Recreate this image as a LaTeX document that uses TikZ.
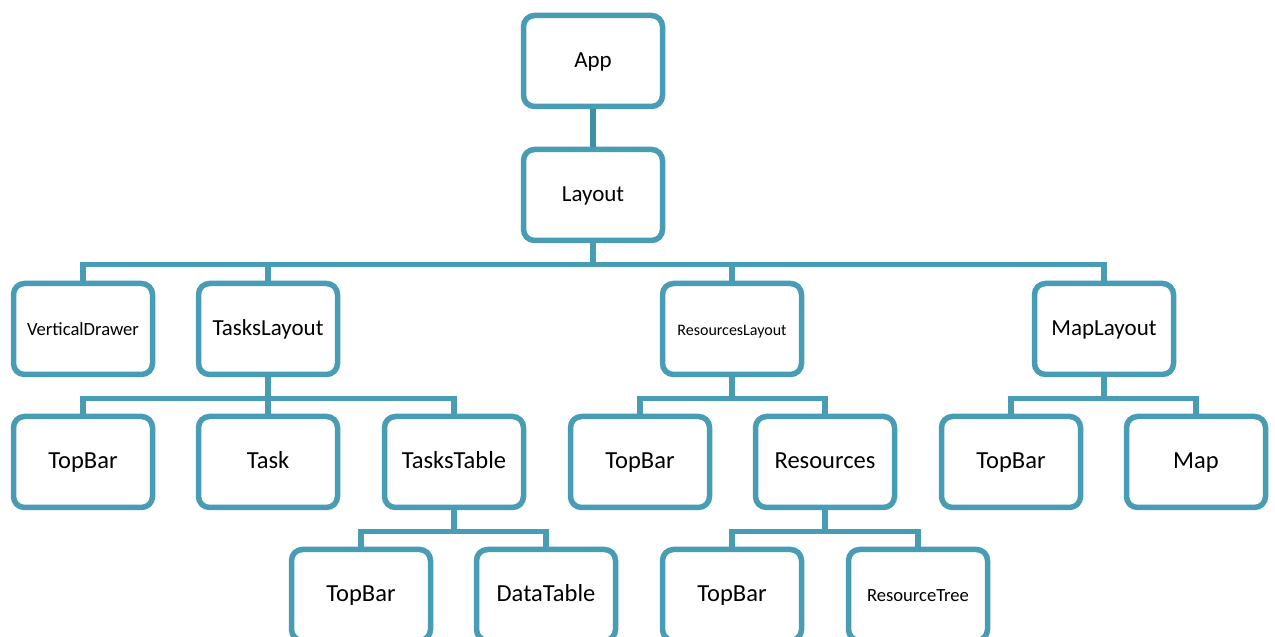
\documentclass[tikz,border=0pt]{standalone}
\usepackage{fontspec}
\setmainfont{Carlito}
\definecolor{boxline}{RGB}{72,156,180}
\definecolor{stemline}{RGB}{62,142,165}
\tikzset{
  x=1pt, y=1pt,
  comp/.style={draw=boxline, line width=5.5pt, rounded corners=11pt, fill=white,
    minimum width=139pt, minimum height=91pt, inner sep=0pt,
    text height=17pt, text depth=4pt, font=\fontsize{23}{27}\selectfont},
  lowtxt/.style={font=\fontsize{24.5}{29}\selectfont},
  smalltxt/.style={font=\fontsize{18.6}{22}\selectfont},
  tinytxt/.style={font=\fontsize{16}{19}\selectfont},
  link/.style={draw=boxline, line width=5.5pt},
}
\begin{document}
\begin{tikzpicture}
\useasboundingbox (0,0) rectangle (1275,637);
\clip (0,0) rectangle (1275,637);

% level 0-1
\node[comp] (app) at (593,576) {App};
\node[comp] (layout) at (593,442) {Layout};

% level 2
\node[comp, smalltxt] (vdrawer) at (83,308) {VerticalDrawer};
\node[comp] (tasks) at (268,308) {TasksLayout};
\node[comp, tinytxt] (reslay) at (732,308) {ResourcesLayout};
\node[comp] (maplay) at (1104,308) {MapLayout};

% level 3
\node[comp, lowtxt] (tbA) at (83,175) {TopBar};
\node[comp, lowtxt] (task) at (268,175) {Task};
\node[comp, lowtxt] (ttable) at (454,175) {TasksTable};
\node[comp, lowtxt] (tbB) at (640,175) {TopBar};
\node[comp, lowtxt] (res) at (825,175) {Resources};
\node[comp, lowtxt] (tbC) at (1011,175) {TopBar};
\node[comp, lowtxt] (map) at (1196,175) {Map};

% level 4
\node[comp, lowtxt] (tbD) at (361,42) {TopBar};
\node[comp, lowtxt] (dtable) at (546,42) {DataTable};
\node[comp, lowtxt] (tbE) at (732,42) {TopBar};
\node[comp, smalltxt] (rtree) at (918,42) {ResourceTree};

% tree connectors
\draw[link, draw=stemline] (app.south) -- (layout.north);
\foreach \c in {vdrawer,tasks,reslay,maplay}
  \draw[link] (layout.south) -- ++(0,-21.5) -| (\c.north);
\foreach \c in {tbA,task,ttable}
  \draw[link] (tasks.south) -- ++(0,-21.5) -| (\c.north);
\foreach \c in {tbB,res}
  \draw[link] (reslay.south) -- ++(0,-21.5) -| (\c.north);
\foreach \c in {tbC,map}
  \draw[link] (maplay.south) -- ++(0,-21.5) -| (\c.north);
\foreach \c in {tbD,dtable}
  \draw[link] (ttable.south) -- ++(0,-21.5) -| (\c.north);
\foreach \c in {tbE,rtree}
  \draw[link] (res.south) -- ++(0,-21.5) -| (\c.north);
\end{tikzpicture}
\end{document}
